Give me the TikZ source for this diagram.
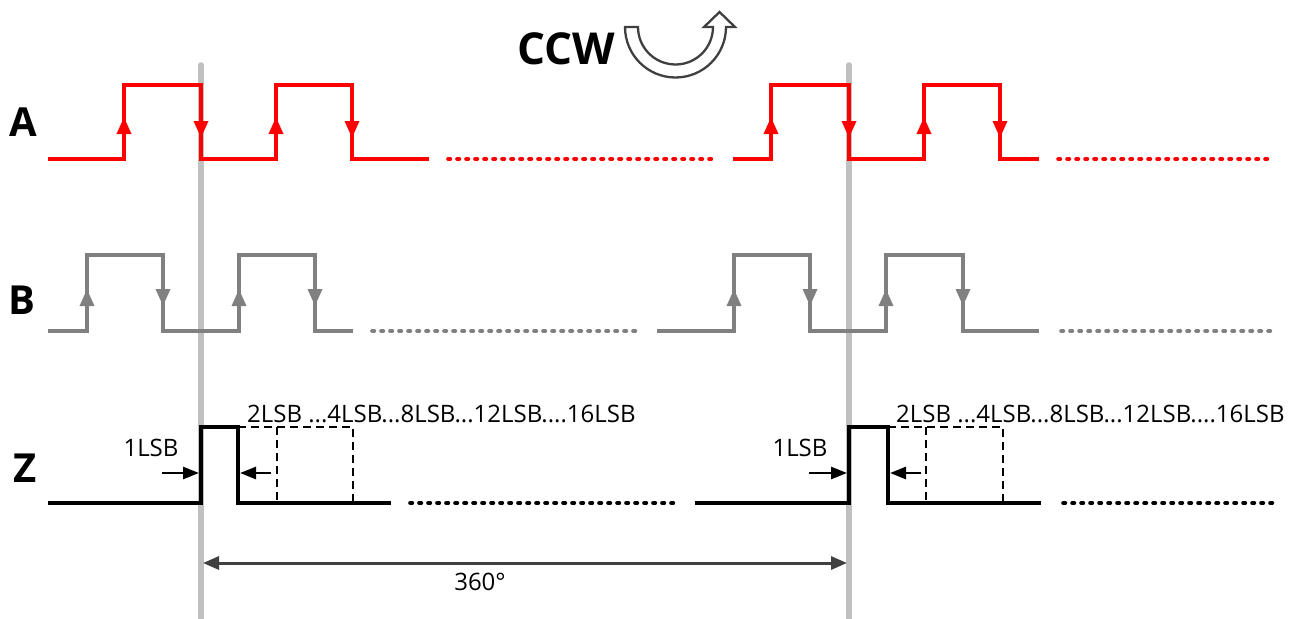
\documentclass[tikz,border=0pt]{standalone}
\usepackage{fontspec}
\setmainfont{Open Sans}
\usetikzlibrary{arrows.meta}
\definecolor{sigA}{HTML}{FF0000}
\definecolor{sigB}{HTML}{808080}
\definecolor{guide}{HTML}{C0C0C0}
\definecolor{dimc}{HTML}{404040}
\begin{document}
\begin{tikzpicture}[x=1pt,y=-1pt,
  wave/.style={line width=3.3pt, line join=miter},
  dotline/.style={line width=3.6pt, line cap=round, dash pattern=on 2.4pt off 6.6pt},
  edgearrow/.style={line width=3.3pt, -{Triangle[length=17pt,width=14pt]}},
  zarrow/.style={line width=2.6pt, black, -{Triangle[length=16pt,width=12pt]}},
  dashz/.style={line width=1.9pt, black, dash pattern=on 8pt off 5pt},
  guideline/.style={guide, line width=5.5pt, line cap=round},
  biglabel/.style={font=\fontsize{40}{40}\selectfont\bfseries, inner sep=0pt},
  smalllabel/.style={font=\fontsize{24}{24}\selectfont, inner sep=0pt}]
\useasboundingbox (0,0) rectangle (1289,618);

% guides
\coordinate (g1t) at (201,65);
\coordinate (g1b) at (201,625);
\coordinate (g2t) at (849,65);
\coordinate (g2b) at (849,625);
\draw[guideline] (g1t) -- (g1b);
\draw[guideline] (g2t) -- (g2b);

% labels
\node[biglabel] (la) at (23,122) {A};
\node[biglabel] (lb) at (22,300) {B};
\node[biglabel] (lz) at (25,468) {Z};
\node[font=\fontsize{44}{44}\selectfont\bfseries, inner sep=0pt] (ccw) at (566,49) {CCW};

% CCW arrow
\draw[dimc, line width=2.3pt, fill=white, line join=miter]
  (625,27) arc[start angle=180, end angle=0, radius=50.5]
  -- (735,27) -- (719.5,12) -- (704,27) -- (713,27)
  arc[start angle=0, end angle=180, radius=37.5] -- cycle;

% Signal A
\draw[wave, sigA] (48,159) -- (124,159) -- (124,85) -- (201,85) -- (201,159) -- (276,159) -- (276,85) -- (352,85) -- (352,159) -- (429,159);
\draw[wave, sigA] (733,159) -- (771,159) -- (771,85) -- (849,85) -- (849,159) -- (924,159) -- (924,85) -- (1000,85) -- (1000,159) -- (1039,159);
\draw[dotline, sigA] (448,159) -- (716,159);
\draw[dotline, sigA] (1058,159) -- (1268,159);
\foreach \x in {124,276,771,924} \draw[edgearrow, sigA] (\x,140) -- (\x,117);
\foreach \x in {201,352,849,1000} \draw[edgearrow, sigA] (\x,110) -- (\x,138);

% Signal B
\draw[wave, sigB] (48,331) -- (87,331) -- (87,255) -- (163,255) -- (163,331) -- (239,331) -- (239,255) -- (315,255) -- (315,331) -- (353,331);
\draw[wave, sigB] (657,331) -- (734,331) -- (734,255) -- (810,255) -- (810,331) -- (886,331) -- (886,255) -- (963,255) -- (963,331) -- (1039,331);
\draw[dotline, sigB] (372,331) -- (638,331);
\draw[dotline, sigB] (1061,331) -- (1271,331);
\foreach \x in {87,239,734,886} \draw[edgearrow, sigB] (\x,312) -- (\x,289);
\foreach \x in {163,315,810,963} \draw[edgearrow, sigB] (\x,282) -- (\x,306);

% Signal Z
\draw[dashz] (238,427) -- (353,427) -- (353,503);
\draw[dashz] (277,427) -- (277,503);
\draw[dashz] (888,427) -- (1003,427) -- (1003,503);
\draw[dashz] (926,427) -- (926,503);
\draw[wave, black] (48,503) -- (201,503) -- (201,427) -- (238,427) -- (238,503) -- (391,503);
\draw[wave, black] (695,503) -- (849,503) -- (849,427) -- (888,427) -- (888,503) -- (1041,503);
\draw[dotline, black] (410,503) -- (678,503);
\draw[dotline, black] (1063,503) -- (1273,503);

\coordinate (a1s) at (162,473); \coordinate (a1e) at (199,473);
\coordinate (a2s) at (271,473); \coordinate (a2e) at (240,473);
\coordinate (a3s) at (809,473); \coordinate (a3e) at (847,473);
\coordinate (a4s) at (921,473); \coordinate (a4e) at (890,473);
\draw[zarrow] (a1s) -- (a1e);
\draw[zarrow] (a2s) -- (a2e);
\draw[zarrow] (a3s) -- (a3e);
\draw[zarrow] (a4s) -- (a4e);

\node[smalllabel] (l1a) at (151,448) {1LSB};
\node[smalllabel] (l1b) at (800,448) {1LSB};
\node[smalllabel, anchor=west] (lsa) at (247,414) {2LSB ...4LSB...8LSB...12LSB....16LSB};
\node[smalllabel, anchor=west] (lsb) at (896,414) {2LSB ...4LSB...8LSB...12LSB....16LSB};

% 360 dimension
\coordinate (d1) at (203,563);
\coordinate (d2) at (847,563);
\draw[dimc, line width=3pt, {Triangle[length=16pt,width=13pt]}-{Triangle[length=16pt,width=13pt]}] (d1) -- (d2);
\node[smalllabel] (deg) at (480,582) {360°};
\end{tikzpicture}
\end{document}
